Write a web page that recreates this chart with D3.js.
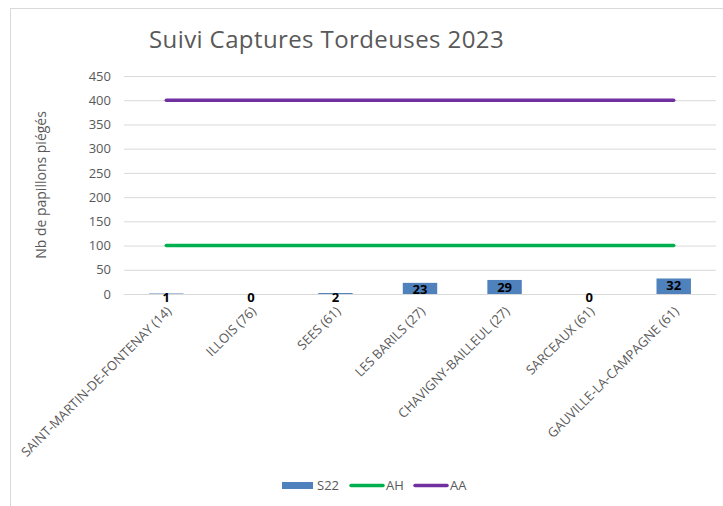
<!DOCTYPE html>
<html>
<head>
<meta charset="utf-8">
<script src="https://cdn.jsdelivr.net/npm/d3@7"></script>
<style>
  body { margin: 0; background: #fff; }
  svg { display: block; font-family: "Open Sans", sans-serif; }
</style>
</head>
<body>
<div class="chart"></div>
<script>
// chart data
const categories = [
  "SAINT-MARTIN-DE-FONTENAY (14)", "ILLOIS (76)", "SEES (61)", "LES BARILS (27)",
  "CHAVIGNY-BAILLEUL (27)", "SARCEAUX (61)", "GAUVILLE-LA-CAMPAGNE (61)"
];
const s22 = [1, 0, 2, 23, 29, 0, 32];
const ah = [100, 100, 100, 100, 100, 100, 100];
const aa = [400, 400, 400, 400, 400, 400, 400];
const yTicks = [0, 50, 100, 150, 200, 250, 300, 350, 400, 450];
const legendItems = ["S22", "AH", "AA"];

const width = 723, height = 506;
const margin = {top: 76, right: 7, bottom: 212, left: 124};
const textGrey = "#595959";
const colors = {S22: "#4f81bd", AH: "#00b050", AA: "#7030a0"};

const svg = d3.select(".chart")
  .append("svg")
  .attr("width", width)
  .attr("height", height);

// outer frame
svg.append("rect")
  .attr("x", 10.5).attr("y", 8.5)
  .attr("width", 730).attr("height", 510)
  .attr("fill", "none")
  .attr("stroke", "#d9d9d9");

svg.append("text")
  .text("Suivi Captures Tordeuses 2023")
  .attr("x", 149).attr("y", 47.5)
  .attr("font-size", "24px")
  .attr("letter-spacing", "0.4px")
  .attr("fill", textGrey);

const x = d3.scaleBand()
  .domain(categories)
  .range([margin.left, width - margin.right])
  .padding(0);

const y = d3.scaleLinear()
  .domain([0, 450])
  .range([height - margin.bottom, margin.top]);

const cx = d => x(d) + x.bandwidth() / 2;

// gridlines + tick labels
const yAxis = svg.append("g")
  .attr("transform", "translate(" + margin.left + ",0)")
  .call(d3.axisLeft(y).tickValues(yTicks).tickSize(-(width - margin.right - margin.left)).tickPadding(13));
yAxis.select(".domain").remove();
yAxis.selectAll(".tick line").attr("stroke", "#d9d9d9");
yAxis.selectAll(".tick text")
  .attr("font-size", "13px")
  .attr("font-family", "Open Sans, sans-serif")
  .attr("fill", textGrey);

svg.append("text")
  .text("Nb de papillons piégés")
  .attr("transform", "translate(46," + y(225) + ") rotate(-90)")
  .attr("text-anchor", "middle")
  .attr("font-size", "14px")
  .attr("fill", textGrey);

// bars
const barW = x.bandwidth() * 0.407;
svg.selectAll(".bar")
  .data(s22)
  .enter()
  .append("rect")
  .attr("class", "bar")
  .attr("x", (d, i) => cx(categories[i]) - barW / 2)
  .attr("y", d => y(d))
  .attr("width", barW)
  .attr("height", d => y(0) - y(d))
  .attr("fill", colors.S22);

// threshold lines
const line = d3.line()
  .x((d, i) => cx(categories[i]))
  .y(d => y(d));

[["AH", ah], ["AA", aa]].forEach(([name, values]) => {
  svg.append("path")
    .datum(values)
    .attr("d", line)
    .attr("fill", "none")
    .attr("stroke", colors[name])
    .attr("stroke-width", 3.5)
    .attr("stroke-linecap", "round");
});

// data labels
svg.selectAll(".label")
  .data(s22)
  .enter()
  .append("text")
  .text(d => d)
  .attr("x", (d, i) => cx(categories[i]))
  .attr("y", d => Math.min(y(d) + 7, y(0) + 3))
  .attr("dy", "0.35em")
  .attr("text-anchor", "middle")
  .attr("font-size", "13px")
  .attr("font-weight", "bold")
  .attr("fill", "#000");

// category labels
svg.selectAll(".cat")
  .data(categories)
  .enter()
  .append("text")
  .text(d => d)
  .attr("transform", d => "translate(" + (cx(d) + 6) + "," + 312 + ") rotate(-45)")
  .attr("text-anchor", "end")
  .attr("font-size", "13px")
  .attr("fill", textGrey);

// legend
const legend = svg.append("g").attr("transform", "translate(0,485.5)");
const legendX = [282, 351, 415];
legendItems.forEach((name, i) => {
  if (name === "S22") {
    legend.append("rect")
      .attr("x", legendX[i]).attr("y", -3.5)
      .attr("width", 31).attr("height", 7)
      .attr("fill", colors[name]);
  } else {
    legend.append("line")
      .attr("x1", legendX[i]).attr("x2", legendX[i] + 32)
      .attr("y1", 0).attr("y2", 0)
      .attr("stroke", colors[name])
      .attr("stroke-width", 3.5)
      .attr("stroke-linecap", "round");
  }
  legend.append("text")
    .text(name)
    .attr("x", legendX[i] + 35)
    .attr("dy", "0.35em")
    .attr("font-size", "13px")
    .attr("fill", textGrey);
});
</script>
</body>
</html>
